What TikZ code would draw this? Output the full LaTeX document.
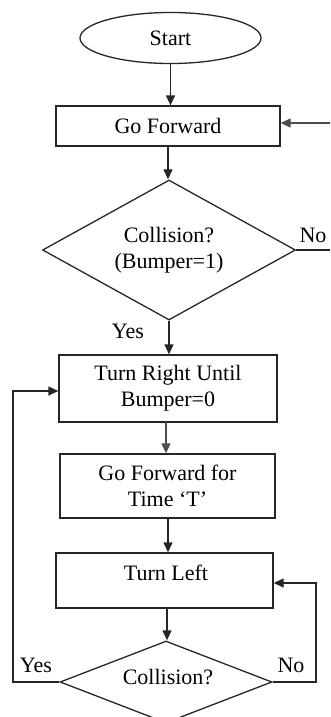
\documentclass[tikz,border=0pt]{standalone}
\usepackage{fontspec}
\setmainfont{Liberation Serif}
\usetikzlibrary{shapes.geometric,arrows.meta}
\begin{document}
\begin{tikzpicture}[x=1pt,y=-1pt,
  every node/.style={font=\fontsize{22}{26}\selectfont, text=black},
  flowline/.style={draw=black!85, line width=1.3pt},
  arrow/.style={flowline, -{Triangle[length=10pt,width=9pt]}},
  procbox/.style={draw=black!85, line width=1.3pt, rectangle, inner sep=0pt, align=center},
  decision/.style={draw=black!85, line width=1.3pt, diamond, inner sep=0pt, aspect=1.8, align=center},
  terminal/.style={draw=black!85, line width=1.3pt, ellipse, inner sep=0pt},
  lbl/.style={inner sep=0pt}]
\useasboundingbox (0,0) rectangle (330,717);

% main column
\node[terminal, minimum width=181pt, minimum height=51pt] (start) at (170.5,38) {Start};
\node[procbox, minimum width=224pt, minimum height=40pt] (fwd) at (168,126) {Go Forward};
\node[decision, minimum width=253pt, minimum height=140pt] (col1) at (169,250) {Collision?\\(Bumper=1)};
\node[procbox, minimum width=218pt, minimum height=67pt] (turnr) at (168,388.5) {Turn Right Until\\Bumper=0};
\node[procbox, minimum width=215pt, minimum height=64pt] (fwdt) at (167.5,486) {Go Forward for\\Time ‘T’};
\node[procbox, minimum width=217pt, minimum height=55pt] (turnl) at (164.5,580.5) {};
\node[lbl] (turnltext) at (166,573) {Turn Left};
\node[decision, minimum width=212pt, minimum height=82pt] (col2) at (166,682) {};
\node[lbl] (col2text) at (168,677) {Collision?};

% branch labels
\node[lbl] (no1) at (313,235) {No};
\node[lbl] (yes1) at (128,331) {Yes};
\node[lbl] (yes2) at (36,665) {Yes};
\node[lbl] (no2) at (291,665) {No};

% loop ends at the right border
\coordinate (noout) at (330,250);
\coordinate (backin) at (330,123);

% connectors
\draw[arrow] (start.south) -- (start.south |- fwd.north);
\draw[arrow] (fwd.south) -- (fwd.south |- col1.north);
\draw[flowline] (col1.east) -- (noout);
\draw[arrow, draw=black!70] (backin) -- (fwd.east |- backin);
\draw[arrow] (col1.south) -- (col1.south |- turnr.north);
\draw[arrow, draw=black!70] (166,422) coordinate (a1) -- (a1 |- fwdt.north);
\draw[arrow] (168,518) coordinate (a2) -- (a2 |- turnl.north);
\draw[arrow] (167,608) coordinate (a3) -- (a3 |- col2.north);
\draw[arrow] (col2.west) -- (13,682) -- (13,391) -- (turnr.west |- 0,391);
\draw[arrow] (col2.east) -- (316,682) -- (316,583) -- (turnl.east |- 0,583);
\end{tikzpicture}
\end{document}
